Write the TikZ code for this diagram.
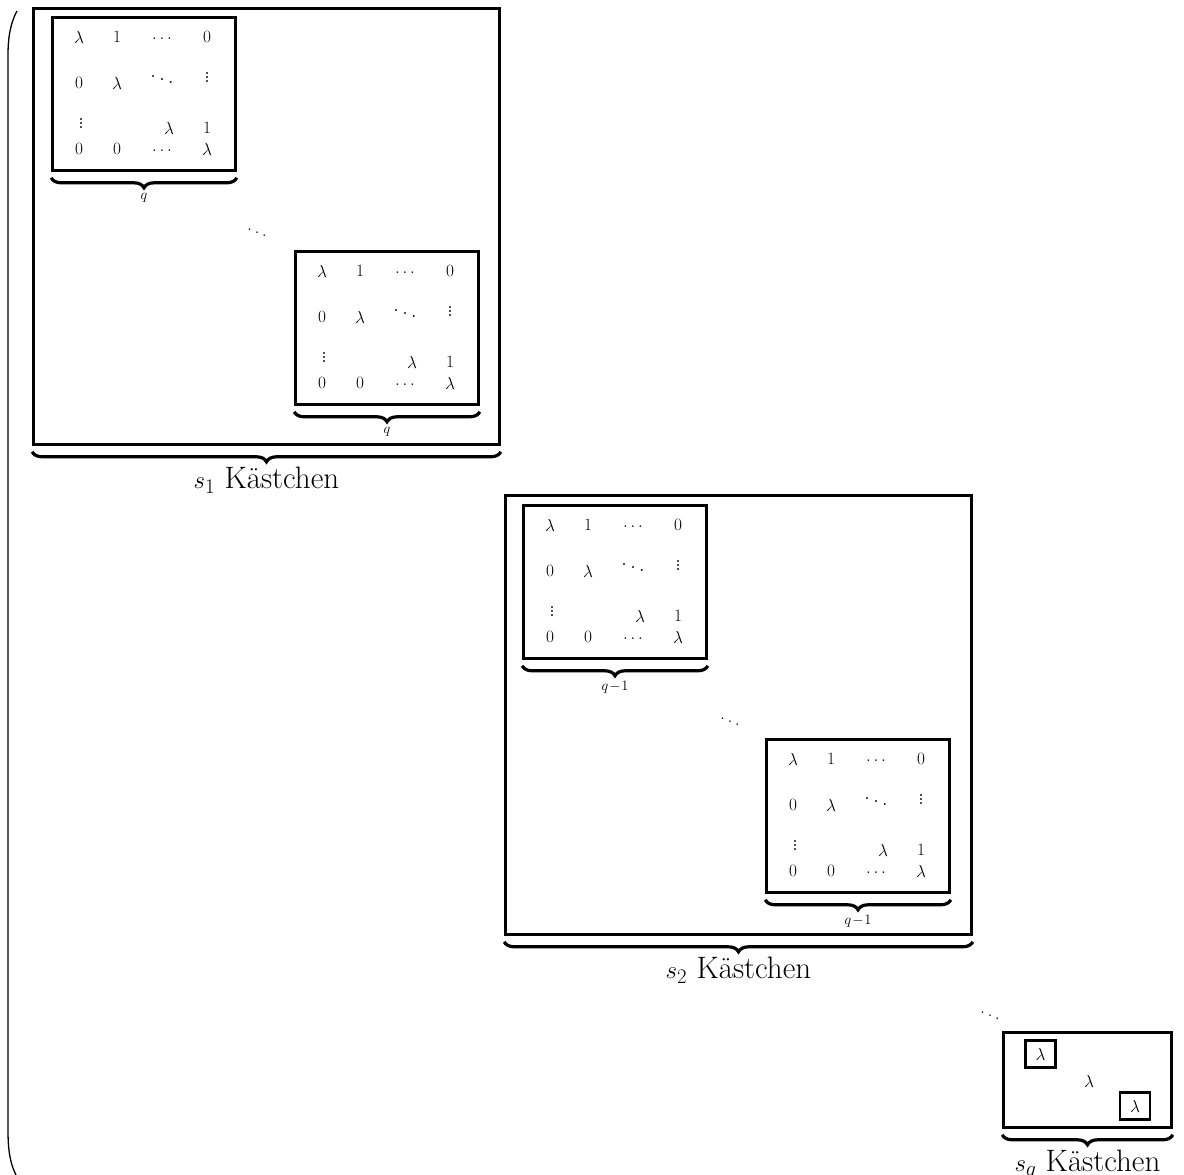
\documentclass[tikz,border=0pt]{standalone}
\usetikzlibrary{decorations.pathreplacing}
\begin{document}
\begin{tikzpicture}[x=1pt,y=-1pt,
  boxln/.style={draw,line width=2.6pt,inner sep=0pt},
  ent/.style={inner sep=0pt,font=\fontsize{16.5}{18}\selectfont},
  dts/.style={inner sep=0pt,font=\fontsize{24}{26}\selectfont},
  brc/.style={decorate,decoration={brace,mirror,amplitude=10pt},line width=3.2pt},
  lbl/.style={inner sep=3pt,font=\fontsize{14}{16}\selectfont},
  biglbl/.style={inner sep=3pt,font=\fontsize{31}{34}\selectfont},
  dd/.style={inner sep=0pt,font=\fontsize{20}{22}\selectfont},
  jordan/.pic={
    \node[boxln,minimum width=183pt,minimum height=153pt] (-box) at (92,77) {};
    \node[ent] (-a11) at (27,20) {$\lambda$};
    \node[ent] (-a12) at (65,20) {$1$};
    \node[ent] (-a13) at (110,22) {$\dots$};
    \node[ent] (-a14) at (155,20) {$0$};
    \node[ent] (-a21) at (27,66) {$0$};
    \node[ent] (-a22) at (65,66) {$\lambda$};
    \node[dts] (-a23) at (110,60) {$\ddots$};
    \node[dts] (-a24) at (155,58) {$\vdots$};
    \node[dts] (-a31) at (29,104) {$\vdots$};
    \node[ent] (-a33) at (117,111) {$\lambda$};
    \node[ent] (-a34) at (155,111) {$1$};
    \node[ent] (-a41) at (27,132) {$0$};
    \node[ent] (-a42) at (65,132) {$0$};
    \node[ent] (-a43) at (110,134) {$\dots$};
    \node[ent] (-a44) at (155,132) {$\lambda$};
  }]
\useasboundingbox (0,0) rectangle (1184,1175);

% big left parenthesis
\draw[line width=1.3pt] (17,11) .. controls (11,22) and (8,36) .. (8,55)
  -- (8,1130) .. controls (8,1150) and (10,1163) .. (16,1175);

% block 1
\node[boxln,minimum width=466pt,minimum height=436pt] (B1) at (266.5,226.5) {};
\pic (J1) at (52,17) {jordan};
\pic (J2) at (295,251) {jordan};
\draw[brc] ([yshift=-6pt]J1-box.south west) -- ([yshift=-6pt]J1-box.south east)
  node[lbl,midway,below=11pt] (L1) {$q$};
\draw[brc] ([yshift=-6pt]J2-box.south west) -- ([yshift=-6pt]J2-box.south east)
  node[lbl,midway,below=11pt] (L2) {$q$};
\node[dd] (D1) at (257,230) {$\ddots$};
\draw[brc] ([yshift=-6pt]B1.south west) -- ([yshift=-6pt]B1.south east)
  node[biglbl,midway,below=11pt] (K1) {$s_1$ Kästchen};

% block 2
\node[boxln,minimum width=466pt,minimum height=439pt] (B2) at (738.5,715) {};
\pic (J3) at (523,505) {jordan};
\pic (J4) at (766,739) {jordan};
\draw[brc] ([yshift=-6pt]J3-box.south west) -- ([yshift=-6pt]J3-box.south east)
  node[lbl,midway,below=11pt] (L3) {$q\!-\!1$};
\draw[brc] ([yshift=-6pt]J4-box.south west) -- ([yshift=-6pt]J4-box.south east)
  node[lbl,midway,below=11pt] (L4) {$q\!-\!1$};
\node[dd] (D2) at (730,719) {$\ddots$};
\draw[brc] ([yshift=-6pt]B2.south west) -- ([yshift=-6pt]B2.south east)
  node[biglbl,midway,below=11pt] (K2) {$s_2$ Kästchen};

% block 3
\node[dd] (D3) at (990,1013) {$\ddots$};
\node[boxln,minimum width=168pt,minimum height=95pt] (B3) at (1087.5,1080) {};
\node[boxln,ent,minimum width=30pt,minimum height=27pt] (S1) at (1040.5,1054) {$\lambda$};
\node[ent] (S2) at (1089,1081) {$\lambda$};
\node[boxln,ent,minimum width=30pt,minimum height=27pt] (S3) at (1135,1106) {$\lambda$};
\draw[brc] ([yshift=-6pt]B3.south west) -- ([yshift=-6pt]B3.south east)
  node[biglbl,midway,below=11pt] (K3) {$s_q$ Kästchen};
\end{tikzpicture}
\end{document}
